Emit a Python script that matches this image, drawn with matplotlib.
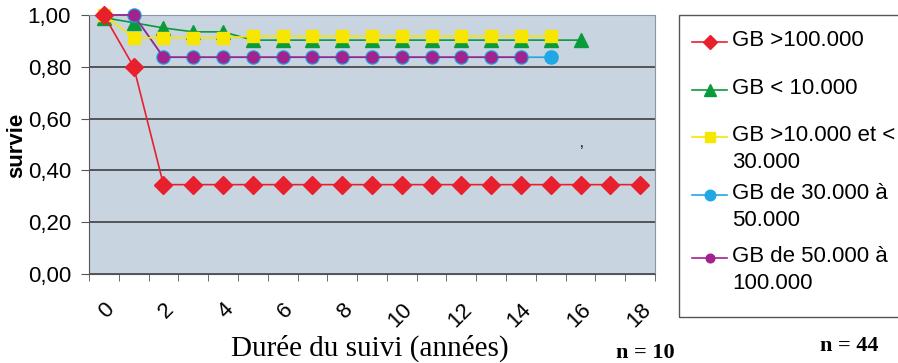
import matplotlib
matplotlib.use("Agg")
import matplotlib.pyplot as plt
from matplotlib.lines import Line2D
from matplotlib.patches import Rectangle
from matplotlib.transforms import ScaledTranslation

# Survival by white blood cell count (GB) over years of follow-up
years = list(range(19))
gb_sup_100k = [1.00, 0.80] + [0.345] * 17
gb_inf_10k = [0.99, 0.97, 0.95, 0.935, 0.935] + [0.903] * 12
gb_10k_30k = [1.00, 0.912, 0.912, 0.912, 0.912] + [0.918] * 11
gb_30k_50k = [1.00, 1.00] + [0.837] * 14
gb_50k_100k = [1.00, 1.00] + [0.837] * 13

series_labels = ["GB >100.000", "GB < 10.000", "GB >10.000 et <\n30.000",
                 "GB de 30.000 à\n50.000", "GB de 50.000 à\n100.000"]
x_tick_labels = [str(v) for v in range(0, 19, 2)]
y_tick_labels = ["0,00", "0,20", "0,40", "0,60", "0,80", "1,00"]

plt.rcParams["font.family"] = ["Liberation Sans", "DejaVu Sans"]

W, H = 898, 363
fig = plt.figure(figsize=(W / 100, H / 100), dpi=100)
ax = fig.add_axes([89 / W, 1 - 274 / H, (655 - 89) / W, (274 - 15) / H])
ax.set_facecolor("#c8d4e0")

red, green, yellow, cyan, magenta = "#e8202e", "#0a9a3c", "#f7e600", "#1ea8e6", "#a3238e"

styles = [
    (gb_sup_100k, red, "D", 9, 6),
    (gb_inf_10k, green, "^", 10, 3),
    (gb_10k_30k, yellow, "s", 8.5, 5),
    (gb_30k_50k, cyan, "o", 9.5, 3),
    (gb_50k_100k, magenta, "o", 7.8, 4),
]
for values, color, marker, size, z in styles:
    ax.plot(years[:len(values)], values, color=color, lw=1.2, marker=marker,
            ms=size, mfc=color, mec=color, clip_on=False, zorder=z)

ax.set_xlim(-0.5, 18.5)
ax.set_ylim(0, 1)
ax.set_yticks([0, 0.2, 0.4, 0.6, 0.8, 1.0])
ax.set_yticklabels(y_tick_labels, fontsize=16)
ax.yaxis.grid(True, color="#333333", lw=1.1)
ax.set_axisbelow(True)
ax.tick_params(axis="y", direction="out", length=6, color="#555555", pad=7)

ax.set_xticks(range(0, 19, 2))
ax.set_xticklabels(x_tick_labels, rotation=45, ha="right", va="top",
                   rotation_mode="anchor", fontsize=16)
# labels sit a little left of the category centres
shift = ScaledTranslation(-15 / 100, 0, fig.dpi_scale_trans)
for lbl in ax.get_xticklabels():
    lbl.set_transform(lbl.get_transform() + shift)
ax.set_xticks([i - 0.5 for i in range(20)], minor=True)
ax.tick_params(axis="x", which="major", length=0, pad=18)
ax.tick_params(axis="x", which="minor", direction="out", length=5, color="#555555")

for side in ["left", "bottom"]:
    ax.spines[side].set_color("#555555")
for side in ["top", "right"]:
    ax.spines[side].set_color("#8a96a4")

fig.text(17 / W, 1 - 145 / H, "survie", fontsize=16, fontweight="bold",
         rotation=90, ha="center", va="center")
fig.text(370 / W, 1 - 348 / H, "Durée du suivi (années)", family="Liberation Serif",
         fontsize=21, ha="center", va="center")

# legend box, running off the right edge
fig.patches.append(Rectangle((679 / W, 1 - 317 / H), 0.3, (317 - 15) / H,
                             transform=fig.transFigure, facecolor="white",
                             edgecolor="#555555", lw=1.0))
legend_rows = [42, 90, 137, 195, 258]
for (values, color, marker, size, z), label, row in zip(styles, series_labels, legend_rows):
    yf = 1 - row / H
    fig.add_artist(Line2D([692 / W, 727 / W], [yf, yf], transform=fig.transFigure,
                          color=color, lw=1.2))
    fig.add_artist(Line2D([709.5 / W], [yf], transform=fig.transFigure, color=color,
                          marker=marker, ms=size * 0.8, mfc=color, mec=color, lw=0))
    fig.text(732 / W, 1 - (row - 12) / H, label, fontsize=16, ha="left", va="top",
             linespacing=1.35)

fig.text(645 / W, 1 - 353 / H, "n = 10", family="Liberation Serif",
         fontsize=16, fontweight="bold", ha="center", va="center")
fig.text(849 / W, 1 - 346 / H, "n = 44", family="Liberation Serif",
         fontsize=16, fontweight="bold", ha="center", va="center")
fig.text(582 / W, 1 - 143 / H, ",", fontsize=10, ha="center", va="center")

fig.savefig("out.png", dpi=100)
